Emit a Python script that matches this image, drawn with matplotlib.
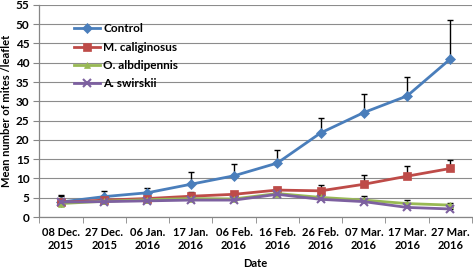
import numpy as np
import matplotlib
matplotlib.use("Agg")
import matplotlib.pyplot as plt
from matplotlib.ticker import FixedLocator, NullFormatter

plt.rcParams['font.family'] = ['Lato', 'DejaVu Sans']

dates = ["08 Dec.\n2015", "27 Dec.\n2015", "06 Jan.\n2016", "17 Jan.\n2016", "06 Feb.\n2016",
         "16 Feb.\n2016", "26 Feb.\n2016", "07 Mar.\n2016", "17 Mar.\n2016", "27 Mar.\n2016"]

control = [3.9, 5.3, 6.3, 8.5, 10.7, 14.0, 21.8, 27.1, 31.4, 41.0]
control_err = [1.6, 1.5, 1.2, 3.2, 3.0, 3.5, 3.9, 4.7, 4.8, 10.2]

caliginosus = [3.8, 4.4, 4.8, 5.4, 5.9, 7.0, 6.8, 8.5, 10.6, 12.6]
caliginosus_err = [1.8, 0.6, 0.6, 1.0, 0.6, 0.8, 1.4, 2.4, 2.6, 2.2]

albdipennis = [3.5, 4.1, 4.5, 4.8, 4.7, 6.1, 5.1, 4.4, 3.5, 3.1]
albdipennis_err = [0.6, 0.5, 0.5, 0.5, 0.5, 0.5, 0.6, 1.1, 0.9, 0.5]

swirskii = [3.9, 4.0, 4.2, 4.4, 4.4, 5.9, 4.6, 4.0, 2.5, 2.1]
swirskii_err = [0.4, 0.4, 0.4, 0.4, 0.4, 0.4, 0.4, 0.4, 0.4, 0.4]

fig = plt.figure(figsize=(4.73, 2.71), dpi=100)
ax = fig.add_axes([0.083, 0.199, 0.915, 0.783])

x = np.arange(len(dates))

series = [
    ("Control", control, control_err, '#4A7EBB', 'D', 5),
    ("M. caliginosus", caliginosus, caliginosus_err, '#BE4B48', 's', 6),
    ("O. albdipennis", albdipennis, albdipennis_err, '#98B954', '^', 5),
    ("A. swirskii", swirskii, swirskii_err, '#7D60A0', 'x', 6),
]

for name, vals, err, col, mk, ms in series:
    ax.errorbar(x, vals, yerr=[np.zeros(len(err)), err], fmt='none', ecolor='black',
                elinewidth=1, capsize=2.5, capthick=1, zorder=2)
    ax.plot(x, vals, color=col, lw=2.0, marker=mk, markersize=ms, markeredgewidth=1.5 if mk == 'x' else 0.5,
            markeredgecolor=col, label=name, zorder=3)

ax.set_xlim(-0.5, 9.5)
ax.set_ylim(0, 55)
ax.set_yticks(np.arange(0, 56, 5))
ax.set_xticks(x)
ax.set_xticklabels(dates)
ax.xaxis.set_minor_locator(FixedLocator(np.arange(-0.5, 10, 1)))
ax.xaxis.set_minor_formatter(NullFormatter())
ax.tick_params(axis='x', which='major', length=0, pad=7, labelsize=8, colors='black')
ax.tick_params(axis='x', which='minor', length=4, color='#868686', direction='out')
ax.tick_params(axis='y', length=4, color='#868686', labelsize=8.5, pad=3)
for lab in ax.get_xticklabels() + ax.get_yticklabels():
    lab.set_fontweight('bold')

ax.grid(axis='y', color='#8C8C8C', lw=0.8)
ax.set_axisbelow(True)
for s in ['top', 'right']:
    ax.spines[s].set_visible(False)
for s in ['left', 'bottom']:
    ax.spines[s].set_color('#868686')
    ax.spines[s].set_linewidth(0.9)

ax.set_ylabel("Mean number of mites /leaflet", fontsize=8, fontweight='bold', labelpad=3)
ax.set_xlabel("Date", fontsize=8, fontweight='bold', labelpad=5)

leg = ax.legend(loc='upper left', bbox_to_anchor=(0.07, 0.935), frameon=False, fontsize=8.5,
                handlelength=2.2, labelspacing=0.62, handletextpad=0.25, borderaxespad=0)
for t in leg.get_texts():
    t.set_fontweight('bold')

fig.savefig("out.png", dpi=100)
